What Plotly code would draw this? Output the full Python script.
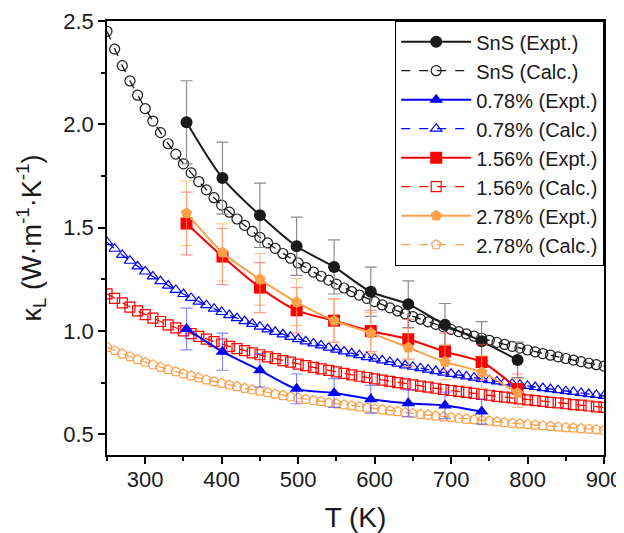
import plotly.graph_objects as go

# ---------------- data ----------------
T_expt = [354, 401, 450, 498, 547, 595, 644, 692, 740, 787]
sns_expt = [2.01, 1.74, 1.56, 1.41, 1.31, 1.19, 1.13, 1.03, 0.95, 0.86]
p078_expt = [1.01, 0.90, 0.81, 0.72, 0.70, 0.67, 0.65, 0.64, 0.61]
p156_expt = [1.52, 1.36, 1.21, 1.10, 1.05, 1.00, 0.96, 0.90, 0.85, 0.72]
p278_expt = [1.57, 1.38, 1.25, 1.14, 1.05, 0.99, 0.92, 0.85, 0.80, 0.70]
err_frac = 0.10

T_calc = list(range(250, 901, 10))
sns_calc = [2.450, 2.364, 2.284, 2.210, 2.141, 2.076, 2.016, 1.960, 1.906, 1.856,
            1.809, 1.765, 1.723, 1.683, 1.645, 1.609, 1.575, 1.542, 1.511, 1.482,
            1.453, 1.426, 1.400, 1.375, 1.352, 1.329, 1.307, 1.285, 1.265, 1.246,
            1.227, 1.208, 1.191, 1.174, 1.158, 1.142, 1.126, 1.112, 1.097, 1.083,
            1.070, 1.057, 1.044, 1.032, 1.020, 1.008, 0.997, 0.986, 0.975, 0.965,
            0.955, 0.945, 0.935, 0.926, 0.917, 0.908, 0.899, 0.891, 0.883, 0.875,
            0.867, 0.859, 0.852, 0.844, 0.837, 0.830]
p078_calc = [1.430, 1.398, 1.368, 1.340, 1.313, 1.288, 1.264, 1.241, 1.220, 1.199,
             1.179, 1.160, 1.142, 1.125, 1.108, 1.092, 1.077, 1.062, 1.048, 1.034,
             1.021, 1.008, 0.996, 0.984, 0.972, 0.961, 0.950, 0.940, 0.930, 0.920,
             0.910, 0.901, 0.892, 0.883, 0.874, 0.866, 0.858, 0.850, 0.842, 0.834,
             0.827, 0.820, 0.813, 0.806, 0.799, 0.793, 0.786, 0.780, 0.774, 0.768,
             0.762, 0.756, 0.751, 0.745, 0.740, 0.734, 0.729, 0.724, 0.719, 0.714,
             0.709, 0.705, 0.700, 0.695, 0.691, 0.686]
p156_calc = [1.180, 1.158, 1.136, 1.116, 1.097, 1.079, 1.062, 1.046, 1.030, 1.015,
             1.001, 0.987, 0.974, 0.961, 0.949, 0.937, 0.926, 0.915, 0.905, 0.894,
             0.885, 0.875, 0.866, 0.857, 0.849, 0.840, 0.832, 0.824, 0.817, 0.809,
             0.802, 0.795, 0.788, 0.781, 0.775, 0.768, 0.762, 0.756, 0.750, 0.744,
             0.739, 0.733, 0.728, 0.723, 0.717, 0.712, 0.708, 0.703, 0.698, 0.693,
             0.689, 0.684, 0.680, 0.676, 0.672, 0.667, 0.663, 0.659, 0.655, 0.652,
             0.648, 0.644, 0.641, 0.637, 0.633, 0.630]
p278_calc = [0.921, 0.905, 0.890, 0.876, 0.862, 0.849, 0.837, 0.825, 0.814, 0.803,
             0.793, 0.783, 0.773, 0.764, 0.755, 0.747, 0.739, 0.731, 0.723, 0.716,
             0.709, 0.702, 0.695, 0.688, 0.682, 0.676, 0.670, 0.664, 0.659, 0.653,
             0.648, 0.643, 0.638, 0.633, 0.628, 0.623, 0.619, 0.614, 0.610, 0.605,
             0.601, 0.597, 0.593, 0.589, 0.585, 0.582, 0.578, 0.574, 0.571, 0.567,
             0.564, 0.561, 0.557, 0.554, 0.551, 0.548, 0.545, 0.542, 0.539, 0.536,
             0.533, 0.531, 0.528, 0.525, 0.523, 0.520]

x_ticks = [300, 400, 500, 600, 700, 800, 900]
y_ticks = [0.5, 1.0, 1.5, 2.0, 2.5]

# ---------------- style ----------------
FONT = "Liberation Sans, Arial, sans-serif"
series = [
    ("SnS", sns_expt, sns_calc, "#1a1a1a", "#8c8c8c", "circle", "circle-open"),
    ("0.78%", p078_expt, p078_calc, "#0000ff", "rgba(70,70,255,0.65)", "triangle-up", "triangle-up-open"),
    ("1.56%", p156_expt, p156_calc, "#ff0000", "rgba(255,80,80,0.6)", "square", "square-open"),
    ("2.78%", p278_expt, p278_calc, "#ffa04a", "rgba(255,170,100,0.7)", "pentagon", "pentagon-open"),
]

fig = go.Figure()
rank = 1
calc_traces = []
expt_traces = []
for name, ye, yc, col, ecol, sym, osym in series:
    xe = T_expt[:len(ye)]
    calc_traces.append(go.Scatter(
        x=T_calc, y=yc, name=f"{name} (Calc.)", mode="lines+markers",
        line=dict(color=col, width=1.3, dash="dash"),
        marker=dict(symbol=osym, size=10, color=col, line=dict(color=col, width=1.2)),
        legendrank=rank + 1,
    ))
    expt_traces.append(go.Scatter(
        x=xe, y=ye, name=f"{name} (Expt.)", mode="lines+markers",
        line=dict(color=col, width=2, shape="spline", smoothing=0.8),
        marker=dict(symbol=sym, size=12, color=col),
        error_y=dict(type="percent", value=err_frac * 100, color=ecol, thickness=1.2, width=6),
        legendrank=rank,
    ))
    rank += 2

for t in calc_traces:
    fig.add_trace(t)
for t in expt_traces:
    fig.add_trace(t)

axis_common = dict(
    showline=True, linecolor="black", linewidth=1.5, mirror=True,
    ticks="outside", ticklen=7, tickwidth=1.5, tickcolor="black",
    showgrid=False, zeroline=False, automargin=False,
    tickfont=dict(family=FONT, size=22, color="#1a1a1a"),
)

fig.update_xaxes(
    range=[250, 900], tickvals=x_ticks, ticklabelstandoff=-3,
    minor=dict(ticks="outside", ticklen=4, tickwidth=1.5, tickcolor="black", dtick=50, tick0=250),
    title=dict(text="T (K)", font=dict(family=FONT, size=28, color="#1a1a1a"), standoff=18),
    **axis_common,
)
fig.update_yaxes(
    range=[0.4, 2.5], tickvals=y_ticks, tickformat=".1f",
    minor=dict(ticks="outside", ticklen=4, tickwidth=1.5, tickcolor="black", dtick=0.25, tick0=0.5),
    title=dict(text="κ<sub>L</sub> (W·m<sup>-1</sup>·K<sup>-1</sup>)",
               font=dict(family=FONT, size=27, color="#1a1a1a"), standoff=14),
    **axis_common,
)

# the page body adds an 8px offset, so the figure is sized to fit the 624x533 window
fig.update_layout(
    width=616, height=525,
    margin=dict(l=99, r=20, t=13, b=78),
    paper_bgcolor="white", plot_bgcolor="white",
    showlegend=True,
    legend=dict(
        x=1, xanchor="right", y=1, yanchor="top",
        bgcolor="white", bordercolor="black", borderwidth=1.2,
        font=dict(family=FONT, size=20, color="#1a1a1a"),
        tracegroupgap=0, itemwidth=70,
    ),
)

fig.write_html("out.html")
